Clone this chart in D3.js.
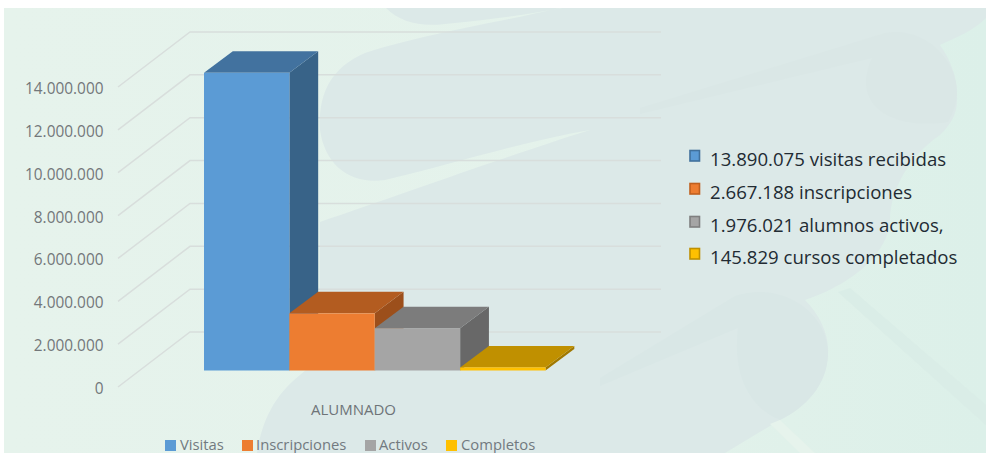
<!DOCTYPE html>
<html>
<head>
<meta charset="utf-8">
<script src="https://cdn.jsdelivr.net/npm/d3@7/dist/d3.min.js"></script>
<style>
html,body{margin:0;padding:0;background:#fff}
svg{display:block}
text{font-family:"Open Sans",sans-serif}
</style>
</head>
<body>
<svg id="chart" width="986" height="453"></svg>
<script>
// Alumnado: visitas, inscripciones, activos y completos
const seriesNames = ["Visitas", "Inscripciones", "Activos", "Completos"];
const seriesValues = [13890075, 2667188, 1976021, 145829];
const categoryLabel = "ALUMNADO";
const tickValues = [0, 2000000, 4000000, 6000000, 8000000, 10000000, 12000000, 14000000];
const summaryTexts = ["13.890.075 visitas recibidas", "2.667.188 inscripciones", "1.976.021 alumnos activos,", "145.829 cursos completados"];
const frontColors = ["#5b9bd5", "#ed7d31", "#a5a5a5", "#ffc000"];
const topColors = ["#42729f", "#b35c20", "#7c7c7c", "#c09000"];
const sideColors = ["#386388", "#9c4f1b", "#686868", "#a07800"];
const swatchFills = ["#5b9bd5", "#ed7d31", "#a5a5a5", "#ffc000"];
const swatchEdges = ["#41719c", "#c0601f", "#7f7f7f", "#bf9000"];

const svg = d3.select("#chart");
const esFormat = d3.formatLocale({decimal: ",", thousands: ".", grouping: [3], currency: ["", " €"]}).format(",d");

// Decorative backdrop
const defs = svg.append("defs");
const wash = defs.append("linearGradient").attr("id", "wash").attr("x1", 0).attr("x2", 1);
wash.append("stop").attr("offset", "0%").attr("stop-color", "#e6f3ec");
wash.append("stop").attr("offset", "60%").attr("stop-color", "#e4f2eb");
wash.append("stop").attr("offset", "100%").attr("stop-color", "#dcf0e9");

const back = svg.append("g");
back.append("rect").attr("x", 4).attr("y", 8).attr("width", 982).attr("height", 445).attr("fill", "url(#wash)");
back.append("path").attr("fill", "#dce9e8").attr("d",
  "M386,8 C400,22 420,27 445,24 C490,20 530,14 562,8 L986,8 L986,18 C975,30 955,38 940,45 " +
  "C952,62 958,80 957,100 C957,115 950,125 940,135 C910,155 890,190 890,220 C888,255 850,285 805,300 " +
  "C820,315 829,335 828,353 C827,385 805,408 780,420 L725,453 L257,453 " +
  "C262,420 275,395 300,375 C330,350 370,330 420,315 L320,300 L320,222 " +
  "C400,195 510,155 590,130 C520,142 450,165 385,180 C350,185 325,165 320,130 " +
  "C318,95 330,68 365,53 C420,35 500,22 560,8 Z");
// Fainter ribbons laid over the backdrop
back.append("path").attr("fill", "#d9e7e6").attr("d",
  "M600,378 L735,296 C785,280 828,315 828,353 C828,385 805,408 780,420 " +
  "C755,410 738,385 737,350 C737,340 737,335 738,328 L600,386 Z");
back.append("path").attr("fill", "#dae7e6").attr("d",
  "M640,108 L885,33 C925,26 957,60 957,92 C957,100 955,110 948,122 C915,128 868,120 866,84 " +
  "C866,74 868,66 872,58 L640,114 Z");
back.append("path").attr("fill", "#e6f3ec").attr("d", "M770,424 L780,420 L815,453 L800,453 Z");
back.append("path").attr("fill", "#daede7").attr("d", "M838,292 L850,288 L986,405 L986,425 Z");

// Projection: front plane of the axis and depth offset to the back wall
const y = d3.scaleLinear().domain([0, 14000000]).range([387, 87]);
const wall = {dx: 72, dy: -55, right: 661};
const axisX = 118;

// Back wall and floor guide lines for every tick
const grid = svg.append("g").attr("fill", "none").attr("stroke-width", 1.5);
grid.selectAll("path").data(tickValues).join("path")
  .attr("stroke", "#d8dedc")
  .attr("d", d => `M${axisX},${y(d)} L${axisX + wall.dx},${y(d) + wall.dy} L${wall.right},${y(d) + wall.dy}`);

// Value axis labels
const axis = d3.axisLeft(y).tickValues(tickValues).tickFormat(esFormat).tickSize(0).tickPadding(0);
const axisG = svg.append("g").attr("transform", "translate(103.5,1.5)").call(axis);
axisG.select(".domain").remove();
axisG.selectAll("text").attr("fill", "#73777a").attr("font-size", 15.4).style("font-family", '"Open Sans",sans-serif');

// Bars: extruded boxes standing part of the way into the floor
const x = d3.scaleBand().domain(seriesNames).range([204, 545.5]).padding(0);
const barLift = -16.5;
const ext = {dx: 28.8, dy: -21.5};
const bars = svg.append("g");
seriesNames.forEach((name, i) => {
  const x0 = x(name), x1 = x0 + x.bandwidth();
  const base = y(0) + barLift, top = y(seriesValues[i]) + barLift;
  const g = bars.append("g");
  g.append("path").attr("fill", sideColors[i])
    .attr("d", `M${x1},${top} L${x1 + ext.dx},${top + ext.dy} L${x1 + ext.dx},${base + ext.dy} L${x1},${base} Z`);
  g.append("path").attr("fill", topColors[i])
    .attr("d", `M${x0},${top} L${x0 + ext.dx},${top + ext.dy} L${x1 + ext.dx},${top + ext.dy} L${x1},${top} Z`);
  g.append("rect").attr("x", x0).attr("y", top).attr("width", x1 - x0).attr("height", base - top).attr("fill", frontColors[i]);
});

// Category label under the bars
svg.append("text").attr("x", 353.5).attr("y", 414.5).attr("text-anchor", "middle")
  .attr("font-size", 15).attr("fill", "#6e7478").text(categoryLabel);

// Bottom legend
const legendSwatchX = [165, 242, 365, 446];
const legendTextX = [180, 256, 379, 461];
const legend = svg.append("g");
seriesNames.forEach((name, i) => {
  legend.append("rect").attr("x", legendSwatchX[i]).attr("y", 440).attr("width", 11).attr("height", 11).attr("fill", frontColors[i]);
  legend.append("text").attr("x", legendTextX[i]).attr("y", 449.5).attr("font-size", 14.8).attr("fill", "#727a80").text(name);
});

// Summary list at the right
const summaryY = [159, 192, 225, 257];
const summary = svg.append("g");
summaryTexts.forEach((t, i) => {
  summary.append("rect").attr("x", 690).attr("y", summaryY[i] - 8.5).attr("width", 9.5).attr("height", 10.5)
    .attr("fill", swatchFills[i]).attr("stroke", swatchEdges[i]).attr("stroke-width", 1.6);
  summary.append("text").attr("x", 710).attr("y", summaryY[i] + 6.5).attr("font-size", 18.6).attr("fill", "#222b33").text(t);
});
</script>
</body>
</html>
